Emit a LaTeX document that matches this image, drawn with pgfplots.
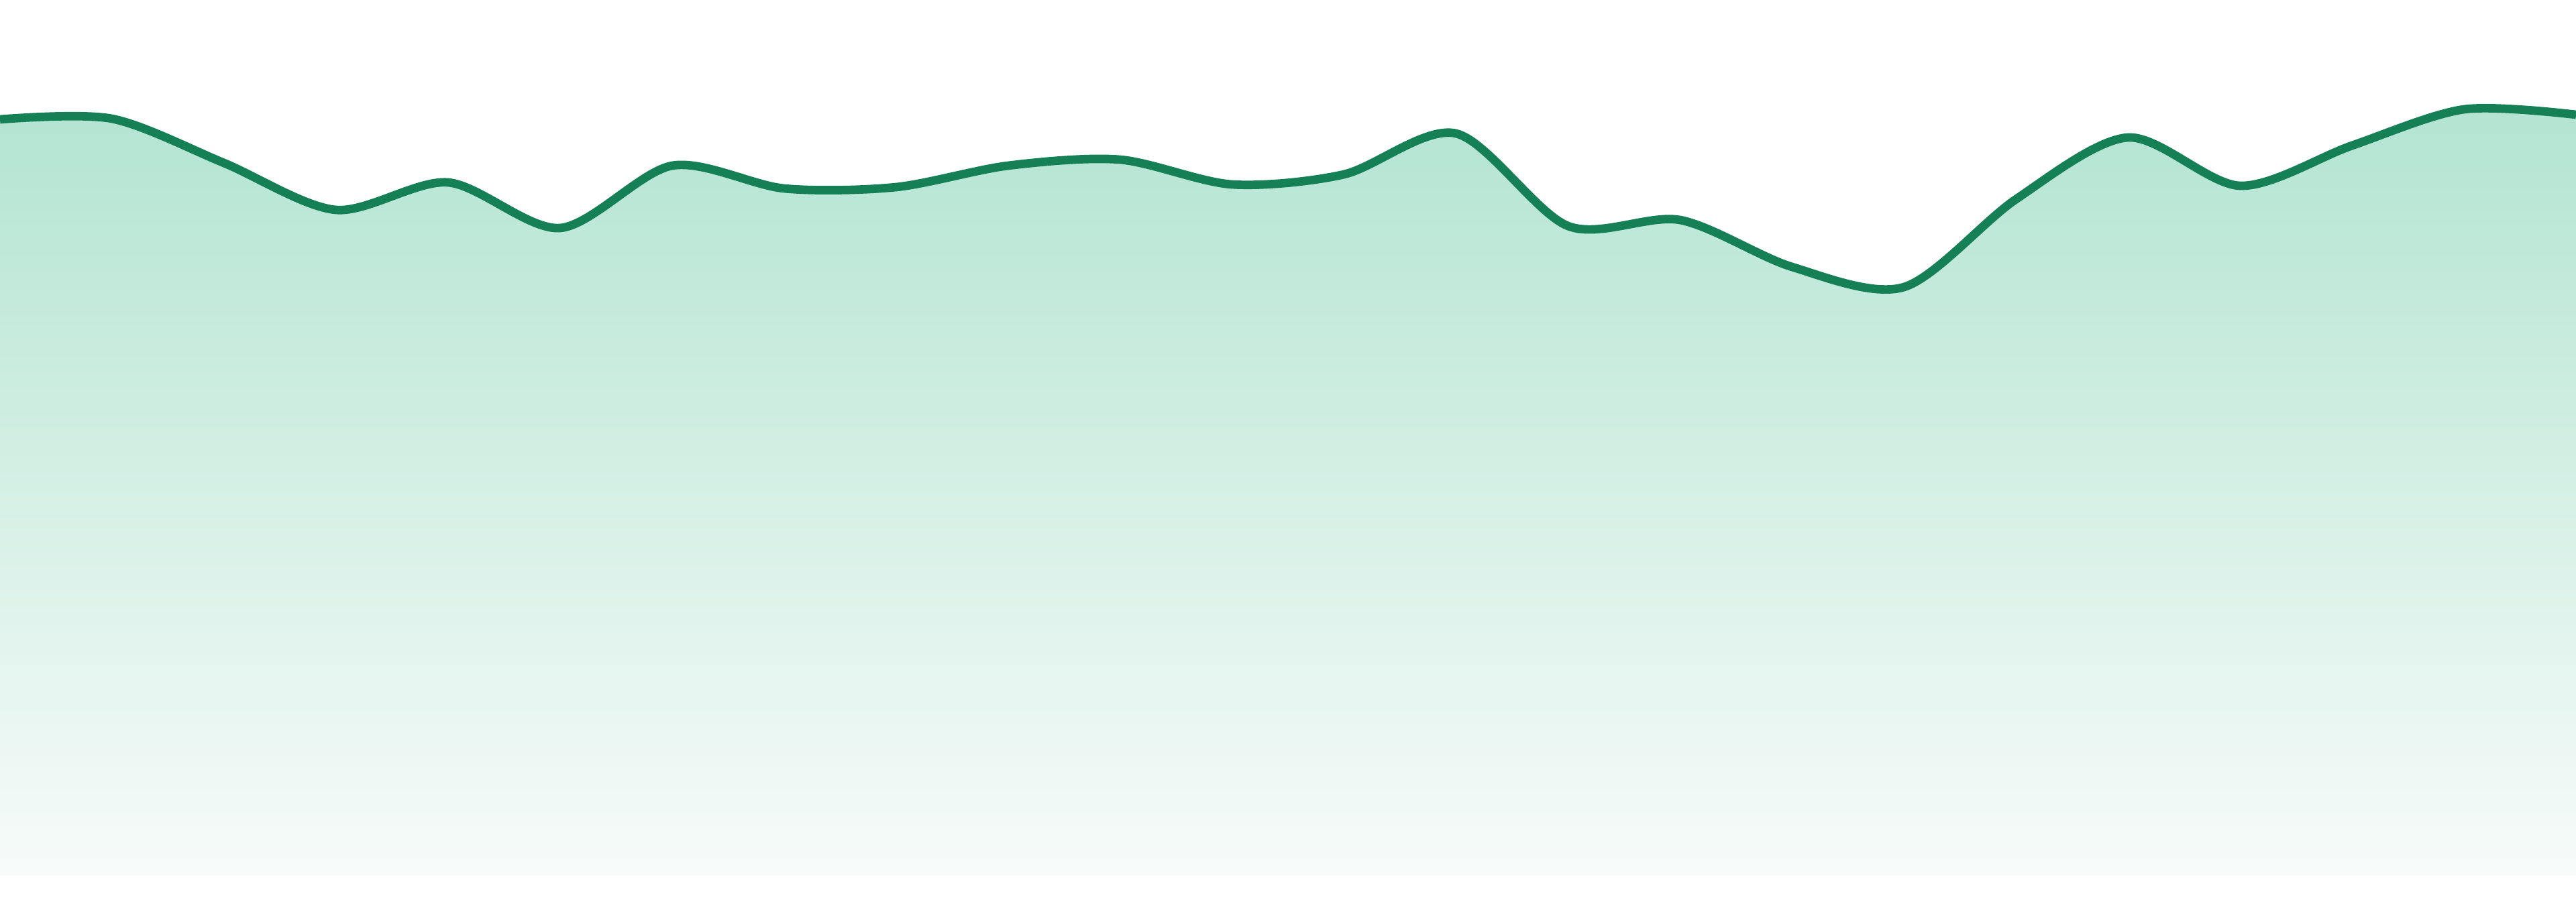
\documentclass[border=0pt]{standalone}
\usepackage{pgfplots}
\pgfplotsset{compat=1.18}
\definecolor{linegreen}{HTML}{157F55}
\definecolor{filltop}{HTML}{B3E4D1}
\definecolor{fillbottom}{HTML}{F7FBFA}
\begin{document}
\begin{tikzpicture}
\begin{axis}[
    name=main,
    scale only axis,
    width=384pt, height=134.4pt,
    hide axis,
    xmin=0, xmax=23,
    ymin=-39, ymax=1305,
]
\addplot[draw=none, top color=filltop, bottom color=fillbottom, smooth, tension=0.5]
coordinates {(0,1127) (1,1128) (2,1062) (3,992) (4,1033) (5,965) (6,1058) (7,1024)
(8,1026) (9,1058) (10,1067) (11,1030) (12,1045) (13,1106) (14,968) (15,977)
(16,907) (17,877) (18,1008) (19,1100) (20,1028) (21,1088) (22,1142) (23,1134)}
\closedcycle;
\addplot[linegreen, line width=1.27pt, smooth, tension=0.5]
coordinates {(0,1127) (1,1128) (2,1062) (3,992) (4,1033) (5,965) (6,1058) (7,1024)
(8,1026) (9,1058) (10,1067) (11,1030) (12,1045) (13,1106) (14,968) (15,977)
(16,907) (17,877) (18,1008) (19,1100) (20,1028) (21,1088) (22,1142) (23,1134)};
\end{axis}
\pgfresetboundingbox
\useasboundingbox (main.south west) rectangle (main.north east);
\end{tikzpicture}
\end{document}
